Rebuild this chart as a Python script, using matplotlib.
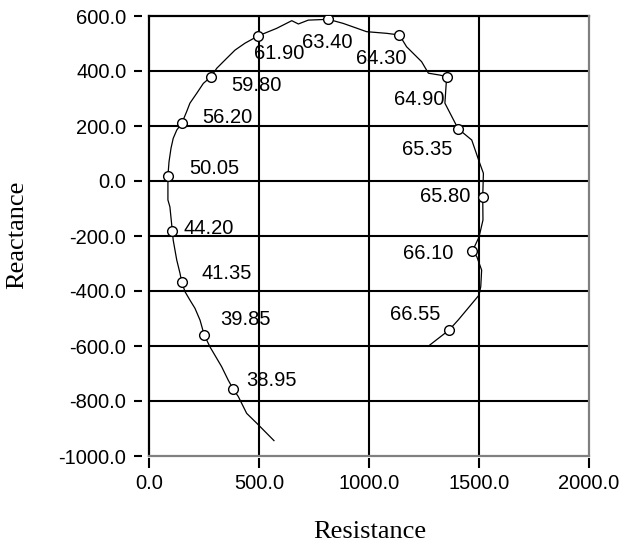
import matplotlib
matplotlib.use("Agg")
import matplotlib.pyplot as plt

# Impedance locus (Resistance, Reactance)
curve_r = [568, 490, 444, 406, 383, 360, 330, 277, 262, 251, 232, 209, 186, 164, 149,
           141, 126, 118, 110, 106, 95, 86, 86, 91, 100, 110, 126, 149, 171, 186, 217,
           247, 282, 308, 353, 391, 436, 497, 580, 649, 679, 724, 815, 883, 989, 1080,
           1138, 1171, 1239, 1270, 1323, 1353, 1345, 1405, 1467, 1501, 1520, 1517, 1518,
           1500, 1470, 1490, 1512, 1508, 1500, 1406, 1364, 1277]
curve_x = [-944, -881, -845, -784, -757, -724, -675, -603, -578, -560, -506, -463, -433,
           -403, -368, -336, -287, -251, -215, -181, -94, -69, 19, 70, 119, 155, 185, 210,
           252, 283, 319, 355, 379, 410, 446, 476, 501, 528, 555, 583, 571, 585, 588, 573,
           543, 537, 531, 488, 434, 392, 385, 379, 283, 190, 149, 70, 28, -57, -142, -204,
           -255, -275, -324, -384, -415, -505, -542, -596]

# Marked frequencies
mark_r = [383, 251, 149, 106, 86, 149, 282, 497, 815, 1138, 1353, 1405, 1517, 1470, 1364]
mark_x = [-757, -560, -368, -181, 19, 210, 379, 528, 588, 531, 379, 190, -57, -255, -542]
mark_labels = ["38.95", "39.85", "41.35", "44.20", "50.05", "56.20", "59.80", "61.90",
               "63.40", "64.30", "64.90", "65.35", "65.80", "66.10", "66.55"]
label_r = [444, 323, 240, 159, 182, 242, 376, 479, 694, 940, 1114, 1149, 1232, 1156, 1095]
label_x = [-724, -502, -338, -171, 44, 232, 347, 462, 504, 446, 295, 116, -58, -263, -485]

xticks = [0, 500, 1000, 1500, 2000]
yticks = [-1000, -800, -600, -400, -200, 0, 200, 400, 600]

W, H = 623, 546
fig = plt.figure(figsize=(W / 100, H / 100), dpi=100)
ax = fig.add_axes([149 / W, 90 / H, 440 / W, 440 / H])
ax.set_xlim(0, 2000)
ax.set_ylim(-1000, 600)

sans = "Liberation Sans"
serif = "Liberation Serif"

for s in ax.spines.values():
    s.set_color("none")
ax.spines["left"].set_position(("outward", 4.8))
ax.spines["bottom"].set_position(("outward", 1.5))

ax.set_xticks(xticks)
ax.set_yticks(yticks)
ax.set_xticklabels([f"{v:.1f}" for v in xticks], fontfamily=sans, fontsize=14.5)
ax.set_yticklabels([f"{v:.1f}" for v in yticks], fontfamily=sans, fontsize=14.5)
ax.tick_params(axis="x", length=7, width=1.5, pad=4.5, color="black")
ax.tick_params(axis="y", length=6, width=1.5, pad=5.5, color="black")

# grid + frame
for v in xticks[1:-1]:
    ax.axvline(v, color="black", lw=1.5, zorder=1)
for v in yticks[1:-1]:
    ax.axhline(v, color="black", lw=1.5, zorder=1)
ax.axvline(0, color="black", lw=1.6, zorder=1, clip_on=False)
ax.axhline(600, color="black", lw=1.6, zorder=1, clip_on=False)
ax.axvline(2000, color="#808080", lw=1.6, zorder=1, clip_on=False)
ax.axhline(-1000, color="#808080", lw=1.6, zorder=1, clip_on=False)

ax.plot(curve_r, curve_x, color="black", lw=0.9, zorder=3)
ax.plot(mark_r, mark_x, linestyle="none", marker="o", markersize=7,
        markerfacecolor="white", markeredgecolor="black", markeredgewidth=1.0, zorder=4)

for lab, lr, lx in zip(mark_labels, label_r, label_x):
    ax.text(lr, lx, lab, fontfamily=sans, fontsize=14.5, ha="left", va="center", zorder=5)

fig.text(370 / W, 1 - 532 / H, "Resistance", fontfamily=serif, fontsize=19,
         ha="center", va="center")
fig.text(17 / W, 1 - 235 / H, "Reactance", fontfamily=serif, fontsize=19,
         ha="center", va="center", rotation=90)

fig.savefig("out.png", dpi=100)
